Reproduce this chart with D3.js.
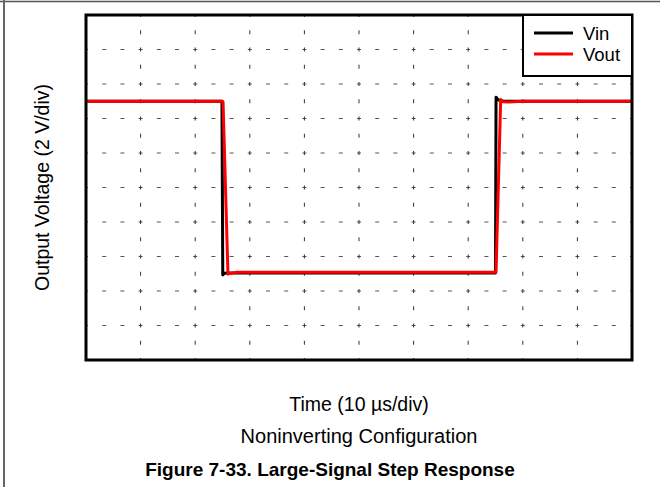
<!DOCTYPE html>
<html>
<head>
<meta charset="utf-8">
<script src="https://cdn.jsdelivr.net/npm/d3@7"></script>
<style>
  body { margin: 0; background: #fff; }
  text { font-family: "Liberation Sans", Arial, sans-serif; }
</style>
</head>
<body>
<script>
// step response, time in us, voltage in V (2 V/div, 10 us/div)
var vinTime = [0, 24.9, 25.05, 25.4, 26, 75.0, 75.1, 75.5, 76.5, 100];
var vinVolt = [15.0, 15.0, 4.93, 5.03, 5.05, 5.05, 15.23, 15.08, 15.0, 15.0];

var voutTime = [0, 25.0, 25.1, 26.0, 26.4, 27.5, 75.0, 75.1, 75.95, 76.4, 77.5, 80, 100];
var voutVolt = [15.0, 15.0, 14.95, 4.98, 5.02, 5.08, 5.08, 5.1, 15.1, 14.97, 14.95, 15.0, 15.0];

var seriesNames = ['Vin', 'Vout'];
var seriesColors = ['#000', '#ff0000'];

(function () {
  'use strict';

  const width = 660,
    height = 487;
  const left = 86, right = 632, top = 15, bottom = 360;

  var svg = d3.select('body')
    .append('svg')
    .attr('width', width)
    .attr('height', height);

  // outer frame (only top and left edges show)
  svg.append('line')
    .attr('x1', 0).attr('y1', 1.5).attr('x2', width).attr('y2', 1.5)
    .style('stroke', '#555').style('stroke-width', 1.5);
  svg.append('line')
    .attr('x1', 4).attr('y1', 0).attr('x2', 4).attr('y2', height)
    .style('stroke', '#666').style('stroke-width', 2);

  var x = d3.scaleLinear().domain([0, 100]).range([left, right]);
  var y = d3.scaleLinear().domain([0, 20]).range([bottom, top]);

  var xDiv = x(10) - x(0),
    yDiv = y(0) - y(2);

  // dashed grid
  svg.append('g').selectAll('line')
    .data(d3.range(2, 20, 2))
    .enter()
    .append('line')
    .attr('x1', left).attr('x2', right)
    .attr('y1', d => y(d)).attr('y2', d => y(d))
    .style('stroke', '#555')
    .style('stroke-width', 1)
    .style('stroke-dasharray', '4 ' + (xDiv / 3 - 4))
    .style('stroke-dashoffset', 2);

  svg.append('g').selectAll('line')
    .data(d3.range(10, 100, 10))
    .enter()
    .append('line')
    .attr('x1', d => x(d)).attr('x2', d => x(d))
    .attr('y1', top).attr('y2', bottom)
    .style('stroke', '#333')
    .style('stroke-width', 1)
    .style('stroke-dasharray', '4 ' + (yDiv / 2 - 4))
    .style('stroke-dashoffset', 2);

  var line = d3.line()
    .x(d => x(d[0]))
    .y(d => y(d[1]));

  var series = [
    d3.zip(vinTime, vinVolt),
    d3.zip(voutTime, voutVolt)
  ];

  svg.selectAll('path.trace')
    .data(series)
    .enter()
    .append('path')
    .attr('class', 'trace')
    .attr('d', line)
    .style('fill', 'none')
    .style('stroke', (d, i) => seriesColors[i])
    .style('stroke-width', 3)
    .style('stroke-linejoin', 'round');

  // plot border
  svg.append('rect')
    .attr('x', left).attr('y', top)
    .attr('width', right - left).attr('height', bottom - top)
    .style('fill', 'none')
    .style('stroke', '#000')
    .style('stroke-width', 3);

  // legend
  var legend = svg.append('g');
  legend.append('rect')
    .attr('x', 523).attr('y', top)
    .attr('width', right - 523).attr('height', 61)
    .style('fill', '#fff')
    .style('stroke', '#000')
    .style('stroke-width', 2);

  var items = legend.selectAll('g.item')
    .data(seriesNames)
    .enter()
    .append('g')
    .attr('class', 'item')
    .attr('transform', (d, i) => 'translate(0,' + (33 + i * 21) + ')');

  items.append('line')
    .attr('x1', 534).attr('x2', 573)
    .style('stroke', (d, i) => seriesColors[i])
    .style('stroke-width', 3);

  items.append('text')
    .attr('x', 583)
    .attr('dy', '0.36em')
    .attr('font-size', '18.5px')
    .style('fill', '#000')
    .text(d => d);

  // axis labels
  svg.append('text')
    .attr('transform', 'translate(42,' + ((top + bottom) / 2) + ') rotate(-90)')
    .attr('text-anchor', 'middle')
    .attr('dy', '0.35em')
    .attr('font-size', '19.5px')
    .text('Output Voltage (2 V/div)');

  svg.append('text')
    .attr('x', (left + right) / 2)
    .attr('y', 411)
    .attr('text-anchor', 'middle')
    .attr('font-size', '19.5px')
    .text('Time (10 µs/div)');

  svg.append('text')
    .attr('x', (left + right) / 2)
    .attr('y', 443)
    .attr('text-anchor', 'middle')
    .attr('font-size', '20px')
    .text('Noninverting Configuration');

  svg.append('text')
    .attr('x', width / 2)
    .attr('y', 476)
    .attr('text-anchor', 'middle')
    .attr('font-size', '19px')
    .attr('font-weight', 'bold')
    .text('Figure 7-33. Large-Signal Step Response');

})();
</script>
</body>
</html>
